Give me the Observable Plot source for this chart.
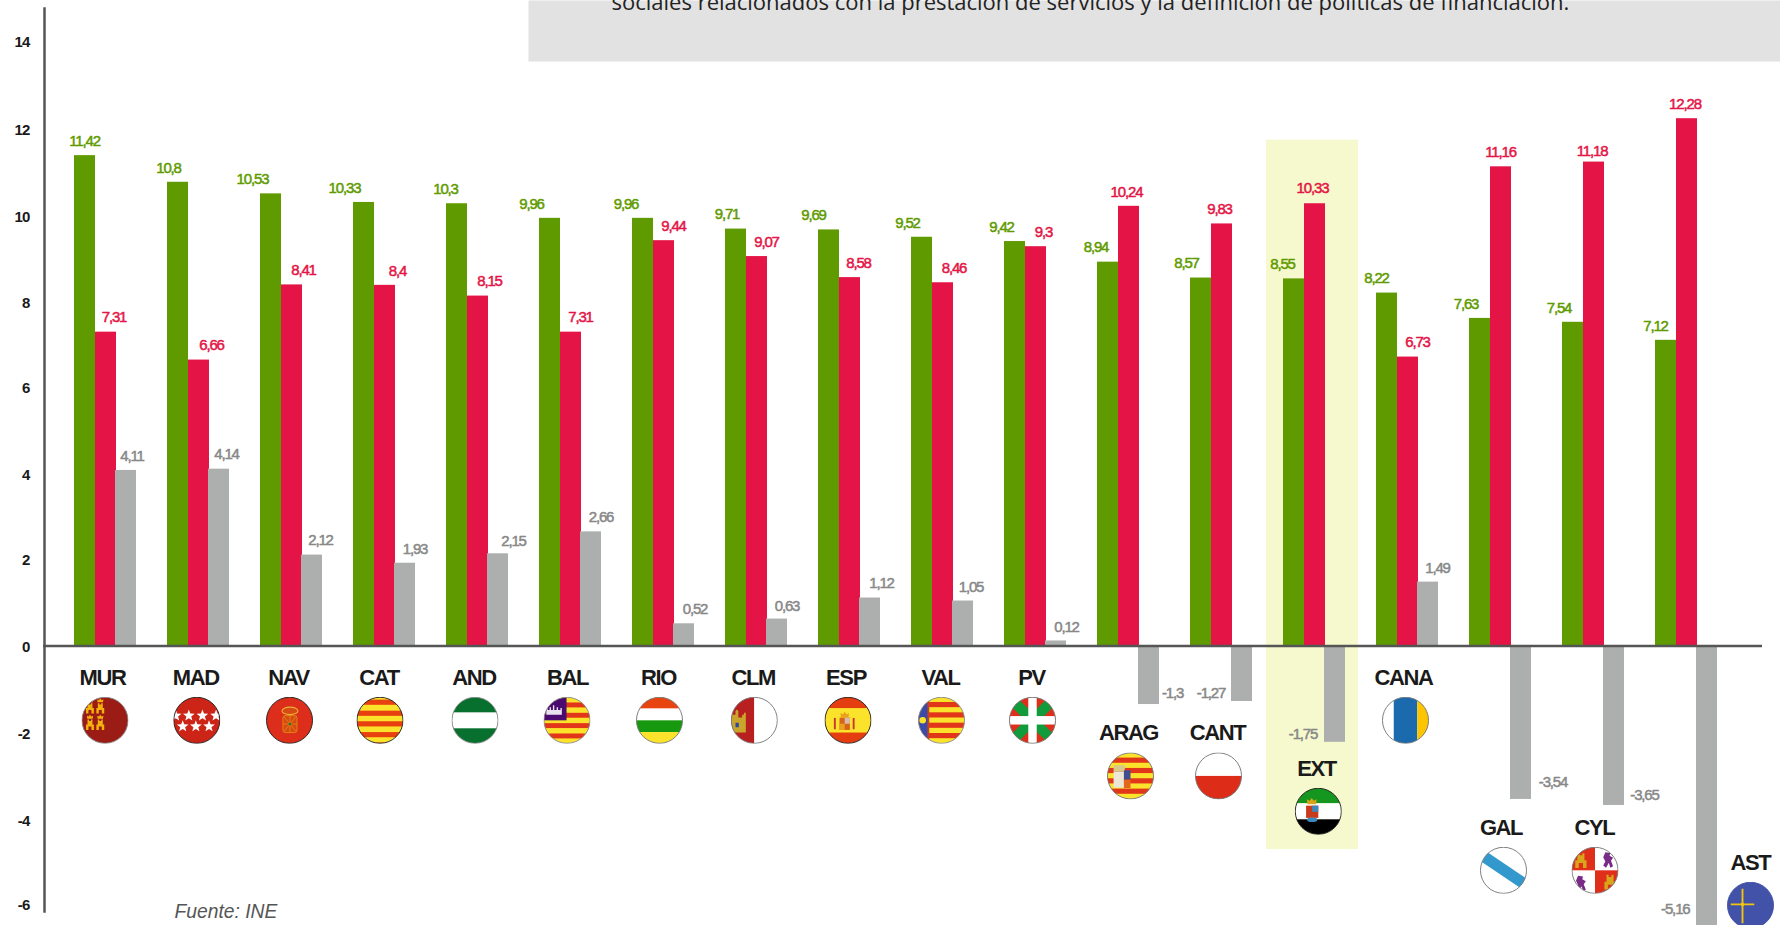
<!DOCTYPE html>
<html lang="es">
<head>
<meta charset="utf-8">
<title>Tasa de variación por comunidades</title>
<script src="https://cdn.jsdelivr.net/npm/d3@7"></script>
<script src="https://cdn.jsdelivr.net/npm/@observablehq/plot@0.6"></script>
<style>
  html,body{margin:0;padding:0;background:#fff;overflow:hidden}
  svg{display:block}
  .vals text{letter-spacing:-1.15px;paint-order:stroke}
  .cats text{letter-spacing:-1.4px}
  .ticks text{letter-spacing:-.8px}
</style>
</head>
<body>
<div id="chart"></div>
<script>
// ---------- data ----------
const countries = ["MUR","MAD","NAV","CAT","AND","BAL","RIO","CLM","ESP","VAL","PV","ARAG","CANT","EXT","CANA","GAL","CYL","AST"];
const greenValues = [11.42,10.8,10.53,10.33,10.3,9.96,9.96,9.71,9.69,9.52,9.42,8.94,8.57,8.55,8.22,7.63,7.54,7.12];
const redValues   = [7.31,6.66,8.41,8.4,8.15,7.31,9.44,9.07,8.58,8.46,9.3,10.24,9.83,10.33,6.73,11.16,11.18,12.28];
// Red bars as drawn: the CYL bar stands a little taller than its printed figure.
const redBars     = [7.31,6.66,8.41,8.4,8.15,7.31,9.44,9.07,8.58,8.46,9.3,10.24,9.83,10.3,6.73,11.16,11.27,12.28];
const greyLabels  = [4.11,4.14,2.12,1.93,2.15,2.66,0.52,0.63,1.12,1.05,0.12,-1.3,-1.27,-1.75,1.49,-3.54,-3.65,-5.16];
// Grey bars as drawn in the picture: some printed figures do not match the drawn length.
const greyBars    = [4.09,4.12,2.12,1.93,2.15,2.66,0.52,0.63,1.12,1.05,0.12,-1.36,-1.29,-2.24,1.49,-3.57,-3.71,-6.6];
const yTicks = [14,12,10,8,6,4,2,0,-2,-4,-6];
const noteText = "sociales relacionados con la prestación de servicios y la definición de políticas de financiación.";
const sourceText = "Fuente: INE";

// ---------- layout (px offsets, separate from data) ----------
const tickDy = [-2.3,-0.2,0.9,1,-0.7,0.7,-0.1,1.4,1.8,3.3,1.7];
const greenLabelDx = [-0.5,-9.5,-18.5,-19.5,-11.5,-18.5,-17,-9,-15.5,-14.5,-13.5,-12,-14.5,-11.5,-10.5,-14,-14,-10.5];
const redLabelDx   = [8,12.5,11.5,12.5,11.5,9.5,9.5,9.5,8.5,11,7.5,-2.5,-2.5,-2.5,9.5,-0.5,-2,-2];
const greyLabelDx  = [6,7.5,8.5,10,15.5,10,11,10,11.5,8,10.5,23.5,-31,-32,9.5,32,30.5,-31.7];
const greyLabelDy  = [-14.5,-14.5,-14.5,-14.5,-12.5,-14.5,-14.5,-12.5,-14.5,-13.5,-13.5,-11,-8,-8,-13.5,-17,-10.7,-20];
const catDx  = [-3.5,-3.2,-3.5,-6,-4,-3.5,-5.5,-3.7,-4,-2.5,-4.5,-0.5,-4.5,1.5,-4.5,0,0.5,63.5];
const catDy  = [31.4,31.4,31.4,31.4,31.4,31.4,31.4,31.4,31.4,31.4,31.4,87,87,122.4,31.4,181.4,181.4,216.4];
const flagDx = [-1,-2.2,-2.5,-5,-3,-4,-4.5,-2.7,-2,-1.5,-3.5,1.5,-3.5,3.3,-2.5,2.5,1,63.5];

// ---------- flags ----------
const R="#e43d10",Y="#fbe32b",DK="#222",GY="#777";
const star=(cx,cy,r)=>{let p=[];for(let i=0;i<10;i++){const a=-Math.PI/2+i*Math.PI/5,q=i%2?r*.42:r;p.push((cx+q*Math.cos(a)).toFixed(1)+","+(cy+q*Math.sin(a)).toFixed(1));}return `<polygon points="${p.join(" ")}" fill="#fff"/>`;};
const rect=(x,y,w,h,f)=>`<rect x="${x}" y="${y}" width="${w}" height="${h}" fill="${f}"/>`;
const stripes=(ys,h,f)=>ys.map(y=>rect(0,y,100,h,f)).join("");
const castle=(x,y,s,f)=>`<path transform="translate(${x} ${y}) scale(${s})" fill="${f}" d="M-8 10 V-1 H-5 V-8 L-5-11 H-2 V-8 H2 V-11 H5 V-8 V-1 H8 V10 H3 V3 H-3 V10Z"/>`;
const crown=(x,y,s,f)=>`<path transform="translate(${x} ${y}) scale(${s})" fill="${f}" d="M-6 4 L-7-3 L-3-1 L0-5 L3-1 L7-3 L6 4Z"/>`;
const lion=(x,y,s)=>`<path transform="translate(${x} ${y}) scale(${s})" fill="#7a2a87" d="M-4-11 L3-10 L2-6 L7-3 L4 1 L7 9 L3 11 L1 4 L-3 11 L-7 8 L-4 2 L-7-4 Z"/>`;
const arms=(x,y,s)=>`<g transform="translate(${x} ${y}) scale(${s})">${rect(-10,-9,20,24,"#d8641a")}${rect(0,-9,10,12,"#d9b8b0")}${rect(-10,3,10,12,"#e9a21d")}${crown(0,-14,1.2,"#e9a21d")}</g>`;
const flag=(body,stroke)=>"data:image/svg+xml,"+encodeURIComponent(`<svg xmlns="http://www.w3.org/2000/svg" viewBox="0 0 100 100"><clipPath id="c"><circle cx="50" cy="50" r="49"/></clipPath><g clip-path="url(#c)">${body}</g><circle cx="50" cy="50" r="49" fill="none" stroke="${stroke}" stroke-width="2"/></svg>`);
const flags = {
  MUR: flag(rect(0,0,100,100,"#9b1c14")+[[18,12],[40,12],[18,47],[40,47]].map(([x,y])=>castle(x,y+13,1.05,"#f2b10c")+crown(x,y-4,.95,"#f2b10c")).join(""),"#8a8a8a"),
  MAD: flag(rect(0,0,100,100,"#cc2416")+[[5,40],[33,40],[62,40],[91,40],[20,63],[48,63],[76,63]].map(([x,y])=>star(x,y,13)).join(""),DK),
  NAV: flag(rect(0,0,100,100,"#dc2e1a")+`<rect x="36" y="40" width="30" height="36" rx="5" fill="#d84a14" stroke="#e49a12" stroke-width="1.6"/><path d="M36 58H66M51 40V76M38 42L64 74M64 42L38 74" stroke="#e49a12" stroke-width="1.4"/><circle cx="51" cy="58" r="3" fill="#1c7a2c"/><ellipse cx="51" cy="30" rx="17" ry="8" fill="#d84a14" stroke="#e9b436" stroke-width="2.4"/>`,DK),
  CAT: flag(rect(0,0,100,100,Y)+stripes([6,29.5,52,75,97],11,"#e8400f"),DK),
  AND: flag(rect(0,0,100,100,"#07702f")+rect(0,33,100,34,"#fff"),"#8a8a8a"),
  BAL: flag(rect(0,0,100,100,Y)+stripes([12,34,56,78],10.5,"#e2361a")+rect(0,0,49,50,"#4b0a70")+`<path d="M6 38V26L9 24V28H13V22H16V28H20V18H23V28H28V22H31V28H36V24H39V38Z" fill="#e8e2ee"/>`,"#8a8a8a"),
  RIO: flag(rect(0,0,100,25,"#e8440f")+rect(0,25,100,25,"#fff")+rect(0,50,100,25,"#16990e")+rect(0,75,100,25,Y),GY),
  CLM: flag(rect(0,0,50,100,"#b8201f")+rect(50,0,50,100,"#fff")+`<path d="M1 65V38H10V30L13 27 16 30V44H24V38H28V34H32V76H3Z" fill="#c9a52c"/><path d="M10 55H17V65H10Z" fill="#2a4aa0"/>`,GY),
  ESP: flag(rect(0,0,100,100,R)+rect(0,24,100,52,Y)+arms(43,54,1.1)+rect(20,45,4,24,"#c33")+rect(60,45,4,24,"#c33"),DK),
  VAL: flag(rect(0,0,100,100,Y)+stripes([11,33,55,77],11,"#e2361a")+`<path d="M0 0H22V100H0Z" fill="#3a4aa8"/><path d="M22 0V100" stroke="#c9401c" stroke-width="4"/><circle cx="10" cy="50" r="7" fill="${Y}"/>`,"#8a8a8a"),
  PV:  flag(rect(0,0,100,100,"#df2f1a")+`<path d="M0 0L100 100M100 0L0 100" stroke="#129b3b" stroke-width="22"/>`+rect(41,0,18,100,"#fff")+rect(0,41,100,18,"#fff"),GY),
  ARAG:flag(rect(0,0,100,100,Y)+stripes([11,33,55,77],11,"#e2361a")+rect(14,27,24,14,"#d8c98a")+rect(14,41,22,34,"#ece6d6")+rect(36,38,14,20,"#3f4f8f")+rect(36,58,14,18,"#e2671a"),GY),
  CANT:flag(rect(0,0,100,50,"#fff")+rect(0,50,100,50,"#dd2c17"),GY),
  EXT: flag(rect(0,0,100,33,"#14961f")+rect(0,33,100,34,"#fff")+rect(0,67,100,33,"#000")+rect(24,38,26,26,"#c93a1c")+rect(37,38,13,13,"#3a8ac0")+crown(36,29,1.5,"#d9a51a")+`<ellipse cx="37" cy="68" rx="11" ry="5" fill="#3a8ac0"/>`,DK),
  CANA:flag(rect(0,0,25,100,"#fff")+rect(25,0,50,100,"#1a6aad")+rect(75,0,25,100,"#fcc500"),GY),
  GAL: flag(rect(0,0,100,100,"#fff")+`<path d="M-5 12L105 86" stroke="#3399cc" stroke-width="24"/>`,GY),
  CYL: flag(rect(0,0,100,100,"#fff")+rect(0,0,50,50,"#df2f1a")+rect(50,50,50,50,"#df2f1a")+castle(20,30,1.5,"#d9a51a")+castle(82,76,1.5,"#d9a51a")+lion(78,28,1.5)+lion(20,78,1.5),GY),
  AST: flag(rect(0,0,100,100,"#4252a8")+`<path d="M33 15V88M8 48H58" stroke="#f1c40f" stroke-width="4"/><circle cx="33" cy="48" r="4" fill="#f1c40f"/>`,"#4252a8")
};

// ---------- tables ----------
const idx = countries.map((_,i)=>i);
const C = i => countries[i];
const valLabel = v => String(v).replace(".",",");
const GREEN="#5f9b00", RED="#e41546", GREY="#adafae", DARK="#555";
const sans="'Liberation Sans',Arial,sans-serif";
const barW=21;

const valueLabels=(vals,dxs,dys,bar,fill,base)=>idx.map(i=>Plot.text([i],{
  x:C, y:i=>bar[i], text:i=>valLabel(vals[i]), fill, fontFamily:sans, fontSize:15,
  dx:base+dxs[i], dy:dys===null?-14.5:dys[i], className:"vals", stroke:fill, strokeWidth:.5
}));

const chart = Plot.plot({
  width:1780, height:925,
  marginTop:0, marginRight:0, marginBottom:0, marginLeft:0,
  x:{type:"band", domain:countries, range:[95,1697], paddingInner:1-barW/93, paddingOuter:0, align:0, round:false, axis:null},
  y:{domain:[-6.505,15.032], range:[925,0], axis:null},
  marks:[
    Plot.frame({fill:"#e2e2e2", insetLeft:528, insetBottom:864}),
    Plot.text([noteText],{frameAnchor:"top-left", dx:611, dy:9, lineAnchor:"bottom", fontFamily:"'Open Sans',sans-serif", fontSize:22, fill:"#222"}),
    Plot.barY(["EXT"],{x:d=>d, y1:-4.737, y2:11.78, fill:"#f6f8cd", insetLeft:-38, insetRight:-33}),
    Plot.barY(idx,{x:C, y1:0, y2:i=>greenValues[i], fill:GREEN, dx:-21}),
    Plot.barY(idx,{x:C, y1:0, y2:i=>redBars[i], fill:RED}),
    Plot.barY(idx,{x:C, y1:0, y2:i=>greyBars[i], fill:GREY, dx:20}),
    Plot.ruleY([0],{stroke:DARK, strokeWidth:2.5, insetLeft:43, insetRight:18}),
    Plot.frame({anchor:"left", stroke:DARK, strokeWidth:2.5, insetLeft:44, insetTop:8, insetBottom:14}),
    ...yTicks.map((t,i)=>Plot.axisY({anchor:"left", ticks:[t], tickSize:0, tickPadding:0, dx:29, dy:tickDy[i], label:null, tickFormat:d=>String(d), fontFamily:sans, fontSize:15, fontWeight:"bold", fill:"#1a1a1a", className:"ticks"})),
    ...valueLabels(greenValues,greenLabelDx,null,greenValues,GREEN,-21),
    ...valueLabels(redValues,redLabelDx,null,redValues,RED,0),
    ...valueLabels(greyLabels,greyLabelDx,greyLabelDy,greyBars,"#888888",20),
    ...idx.map(i=>Plot.text([i],{x:C, y:()=>0, text:C, dx:catDx[i], dy:catDy[i], fontFamily:sans, fontSize:22, fontWeight:"bold", fill:"#1a1a1a", className:"cats"})),
    ...idx.map(i=>Plot.image([i],{x:C, y:()=>0, src:()=>flags[C(i)], width:47, height:47, dx:flagDx[i], dy:catDy[i]+42.8})),
    Plot.text([sourceText],{frameAnchor:"bottom-left", dx:174, dy:-14, lineAnchor:"middle", fontFamily:sans, fontStyle:"italic", fontSize:19.3, fill:"#555"})
  ]
});
document.getElementById("chart").appendChild(chart);
</script>
</body>
</html>
